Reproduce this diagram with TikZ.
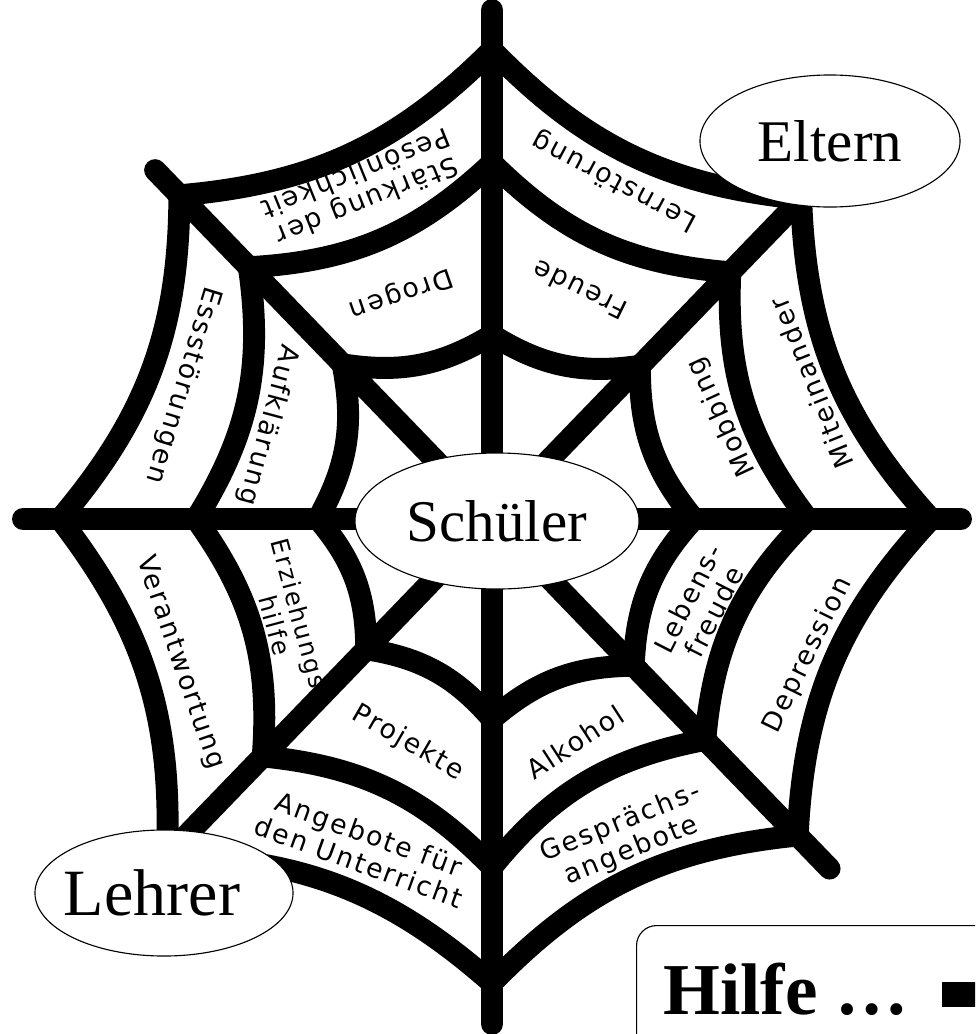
\documentclass[tikz,border=0pt]{standalone}
\usepackage{fontspec}
\setmainfont{Liberation Serif}
\newfontfamily\hand[LetterSpace=8]{DejaVu Sans}
\usepackage{tikz}
\usetikzlibrary{positioning, shapes.geometric}

\tikzset{
  thread/.style={line width=15.6pt, line cap=round, line join=round},
  blob/.style={ellipse, draw, fill=white, line width=0.8pt, inner sep=0pt},
  topic/.style={font=\hand\fontsize{19}{21}\selectfont, align=center, inner sep=0pt},
}

\begin{document}
\begin{tikzpicture}[x=0.025cm, y=-0.025cm]
    \useasboundingbox (0,0) rectangle (975,1034);
    \clip (0,0) rectangle (975,1034);

    \begin{scope}[shift={(492,519)}]
      \coordinate (c) at (0,0);
      \foreach \k/\a/\rin/\rmid/\rout/\rtip in {1/0/202/316/439/469, 2/46/204/307/440/486, 3/90/200/348/464/505, 4/134/181/330/468/500, 5/180/174/296/432/469, 6/226/215/350/450/485, 7/270/184/356/469/509, 8/314/213/343/445/486} {
        \coordinate (i\k) at (\a:\rin);
        \coordinate (m\k) at (\a:\rmid);
        \coordinate (o\k) at (\a:\rout);
        \coordinate (t\k) at (\a:\rtip);
      }
    \end{scope}

    \foreach \k in {1,...,8}
      \draw[thread] (c) -- (t\k);
    \foreach \k [evaluate=\k as \n using {int(mod(\k,8)+1)}] in {1,...,8}
      \draw[thread] (i\k) to[bend right=20] (i\n)
                    (m\k) to[bend right=20] (m\n)
                    (o\k) to[bend right=20] (o\n);

    \node[topic, rotate=202] (staerkung) at (362,188) {Stärkung der\\Pesönlichkeit};
    \node[topic, rotate=152] (lernstoerung) at (615,181) {Lernstörung};
    \node[topic, rotate=199] (drogen) at (401,293) {Drogen};
    \node[topic, rotate=154] (freude) at (580,290) {Freude};
    \node[topic, rotate=112] (miteinander) at (811,383) {Miteinander};
    \node[topic, rotate=115] (mobbing) at (722,417) {Mobbing};
    \node[topic, rotate=63] (lebensfreude) at (701,605) {Lebens-\\freude};
    \node[topic, rotate=64] (depression) at (808,655) {Depression};
    \node[topic, rotate=22] (gespraech) at (626,837) {Gesprächs-\\angebote};
    \node[topic, rotate=33] (alkohol) at (575,742) {Alkohol};
    \node[topic, rotate=-30] (projekte) at (408,743) {Projekte};
    \node[topic, rotate=-20] (unterricht) at (364,848) {Angebote für\\den Unterricht};
    \node[topic, rotate=-71] (verantwortung) at (180,663) {Verantwortung};
    \node[topic, rotate=-75, font=\hand\fontsize{17.5}{19}\selectfont] (erziehung) at (288,622) {Erziehungs-\\hilfe};
    \node[topic, rotate=-107] (essstoerung) at (183,385) {Essstörungen};
    \node[topic, rotate=-105] (aufklaerung) at (268,425) {Aufklärung};

    \node[blob, minimum width=7.1cm, minimum height=3.4cm, font=\fontsize{42}{48}\selectfont] (schueler) at (497,521) {Schüler};
    \node[blob, minimum width=6.5cm, minimum height=3.3cm, font=\fontsize{42}{48}\selectfont] (eltern) at (830,141) {Eltern};
    \node[blob, minimum width=6.45cm, minimum height=3.15cm] (lehrer) at (164,893) {};
    \node[font=\fontsize{47}{52}\selectfont, inner sep=0pt] (lehrertext) at ([xshift=-0.3cm]lehrer.center) {Lehrer};

    \node[draw, rounded corners=0.5cm, line width=0.8pt, anchor=north west, minimum width=12cm, minimum height=5cm] (hilfebox) at (636,925) {};
    \node[below right=0.95cm and 0.675cm of hilfebox.north west, inner sep=0pt, font=\bfseries\fontsize{52}{60}\selectfont] (hilfe) {Hilfe …};
    \node[right=0.8cm of hilfe, yshift=-0.12cm, fill, inner sep=0pt, minimum width=1.5cm, minimum height=0.625cm] (bar) {};
\end{tikzpicture}
\end{document}
